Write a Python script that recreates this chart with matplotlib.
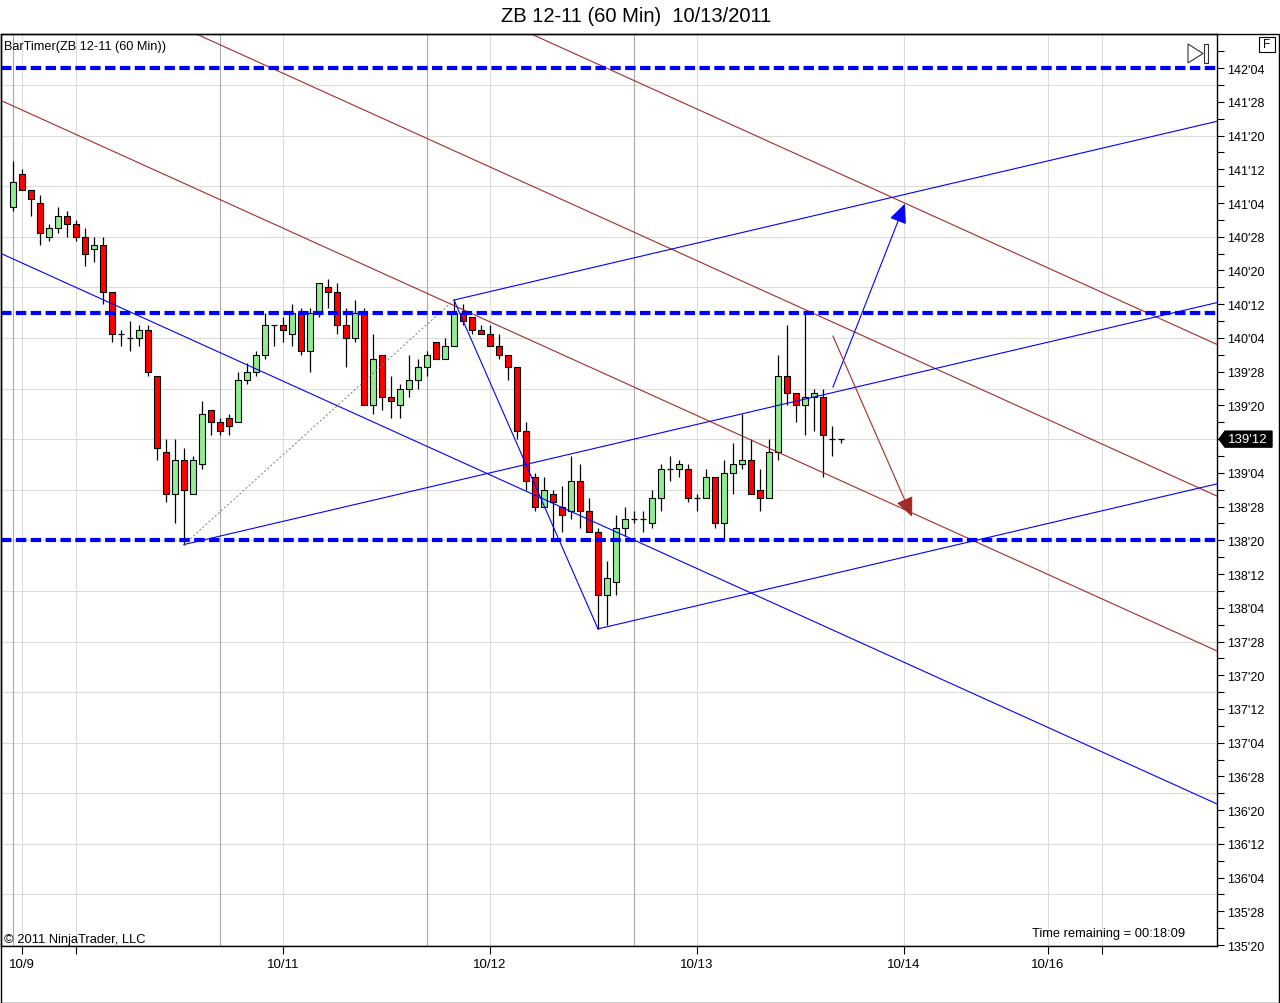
import matplotlib.pyplot as plt
import numpy as np
from matplotlib.patches import Polygon, Rectangle

plt.rcParams['font.family'] = ['Liberation Sans', 'DejaVu Sans']
plt.rcParams['lines.scale_dashes'] = False

# OHLC in 32nds, hourly bars of ZB 12-11
opens = ["141'03", "141'11", "141'07", "141'04", "140'28", "140'30", "141'01", "140'31", "140'28", "140'25",
         "140'26", "140'15", "140'05", "140'04", "140'04", "140'06", "139'27", "139'09", "138'31", "139'07",
         "138'31", "139'06", "139'19", "139'16", "139'17", "139'16", "139'26", "139'28", "140'00", "140'07",
         "140'07", "140'05", "140'10", "140'01", "140'10", "140'16", "140'15", "140'07", "140'04", "140'10",
         "139'20", "140'00", "139'22", "139'20", "139'24", "139'26", "139'29", "140'03", "139'31", "140'02",
         "140'10", "140'09", "140'06", "140'05", "140'02", "140'00", "139'29", "139'14", "139'03", "138'28",
         "138'31", "138'28", "138'27", "139'02", "138'27", "138'22", "138'07", "138'10", "138'23", "138'25",
         "138'25", "138'24", "138'30", "139'05", "139'05", "139'05", "138'30", "138'30", "139'03", "138'24",
         "139'04", "139'06", "139'07", "139'00", "138'30", "139'09", "139'27", "139'23", "139'20", "139'22",
         "139'22", "139'12", "139'12"]
highs = ["141'14", "141'12", "141'07", "141'06", "140'31", "141'03", "141'02", "141'00", "140'30", "140'28",
         "140'28", "140'15", "140'06", "140'08", "140'07", "140'07", "139'27", "139'12", "139'12", "139'10",
         "139'08", "139'21", "139'19", "139'17", "139'18", "139'28", "139'30", "140'01", "140'10", "140'07",
         "140'09", "140'12", "140'11", "140'11", "140'17", "140'18", "140'17", "140'11", "140'13", "140'11",
         "140'05", "140'00", "139'27", "139'25", "140'00", "139'31", "140'01", "140'03", "140'04", "140'13",
         "140'12", "140'09", "140'07", "140'07", "140'05", "140'00", "139'29", "139'16", "139'04", "139'03",
         "139'00", "139'01", "139'08", "139'06", "138'30", "138'23", "138'15", "138'26", "138'28", "138'27",
         "138'27", "139'00", "139'06", "139'08", "139'07", "139'06", "138'31", "139'05", "139'03", "139'07",
         "139'11", "139'18", "139'12", "139'05", "139'12", "140'00", "140'07", "139'23", "140'10", "139'24",
         "139'24", "139'15", "139'12"]
lows = ["141'02", "141'07", "141'01", "140'26", "140'27", "140'29", "140'28", "140'27", "140'21", "140'22",
        "140'12", "140'03", "140'02", "140'01", "140'02", "139'27", "139'07", "138'29", "138'24", "138'19",
        "138'31", "139'05", "139'13", "139'13", "139'13", "139'16", "139'25", "139'27", "139'31", "140'02",
        "140'03", "140'02", "140'00", "139'28", "140'09", "140'11", "140'05", "139'29", "140'03", "139'20",
        "139'18", "139'19", "139'17", "139'17", "139'22", "139'24", "139'27", "139'31", "139'31", "140'02",
        "140'07", "140'05", "140'05", "140'02", "139'31", "139'26", "139'12", "139'00", "138'27", "138'28",
        "138'20", "138'22", "138'25", "138'23", "138'22", "137'31", "138'00", "138'07", "138'21", "138'24",
        "138'22", "138'23", "138'27", "139'02", "139'03", "138'29", "138'27", "138'30", "138'23", "138'20",
        "138'31", "139'05", "138'31", "138'27", "138'30", "139'07", "139'20", "139'16", "139'13", "139'14",
        "139'03", "139'08", "139'11"]
closes = ["141'09", "141'07", "141'05", "140'29", "140'30", "141'01", "140'31", "140'28", "140'24", "140'26",
          "140'15", "140'05", "140'05", "140'04", "140'06", "139'28", "139'10", "138'31", "139'07", "139'00",
          "139'07", "139'18", "139'16", "139'14", "139'15", "139'26", "139'28", "140'00", "140'07", "140'07",
          "140'06", "140'10", "140'01", "140'10", "140'17", "140'15", "140'07", "140'04", "140'10", "139'20",
          "139'31", "139'22", "139'21", "139'24", "139'26", "139'29", "140'00", "139'31", "140'02", "140'10",
          "140'08", "140'06", "140'05", "140'02", "140'00", "139'29", "139'14", "139'02", "138'28", "139'00",
          "138'29", "138'26", "139'02", "138'27", "138'22", "138'07", "138'11", "138'23", "138'25", "138'25",
          "138'25", "138'30", "139'05", "139'05", "139'06", "138'30", "138'30", "139'03", "138'24", "139'04",
          "139'06", "139'07", "138'31", "138'30", "139'09", "139'27", "139'23", "139'20", "139'22", "139'23",
          "139'13", "139'12", "139'12"]

# horizontal lines (blue dashed)
hlines_q = ["142'04", "140'10", "138'20"]
# pitchfork pivots: bar index, low/high
pivot_bars = [19, 49, 65]
# parallel channel: price at bar 0 and slope per bar
channel_at0 = [140.711, 141.845, 142.993, 144.117]
channel_colors = ['#0000ff', '#a52a2a', '#a52a2a', '#a52a2a']
channel_slope = -0.0302
# arrows (bar, price)
arrow_blue = [(91.1, 139.76), (99.1, 141.12)]
arrow_brown = [(91.1, 140.14), (99.9, 138.80)]

# x axis
xtick_bars = [1, 7, 30, 53, 76, 99, 115, 121]
xtick_labels = ['10/9', '', '10/11', '10/12', '10/13', '10/14', '10/16', '']
session_bars = [0, 23, 46, 69]
last_price = "139'12"


def q2f(q):
    h, f = q.split("'")
    return int(h) + int(f) / 32.0


def f2q(v):
    n = int(round(v * 32))
    return "%d'%02d" % (n // 32, n % 32)


o = np.array([q2f(v) for v in opens])
h = np.array([q2f(v) for v in highs])
l = np.array([q2f(v) for v in lows])
c = np.array([q2f(v) for v in closes])
x = np.arange(len(o))

W, H = 1280, 1004
fig = plt.figure(figsize=(W / 100, H / 100), dpi=100)
fig.patch.set_facecolor('white')


def fx(p):
    return p / W


def fy(p):
    return 1 - p / H


ax = fig.add_axes([fx(1), fy(947), fx(1217) - fx(1), (947 - 35) / H])
ax.set_xlim(-1.33, 133.78)
ax.set_ylim(135.618, 142.378)

# grid
for g in np.arange(135.625, 142.4, 0.375):
    ax.axhline(g, color='#dcdcdc', lw=0.8, zorder=0)
for b in xtick_bars:
    ax.axvline(b, color='#dcdcdc', lw=0.8, zorder=0)
for b in session_bars:
    ax.axvline(b, color='#a9a9a9', lw=0.8, zorder=0)

# candles
ax.vlines(x, l, h, color='black', lw=0.9, zorder=2)
up = c > o
dn = c < o
dj = c == o
bw = 0.667
ax.bar(x[up], (c - o)[up], bottom=o[up], width=bw, color='#90ee90', edgecolor='black', lw=0.8, zorder=3)
ax.bar(x[dn], (o - c)[dn], bottom=c[dn], width=bw, color='#ff0000', edgecolor='black', lw=0.8, zorder=3)
ax.hlines(c[dj], x[dj] - bw / 2, x[dj] + bw / 2, color='black', lw=0.9, zorder=3)

# channel lines
for p0, col in zip(channel_at0, channel_colors):
    ax.axline((0, p0), slope=channel_slope, color=col, lw=0.8, zorder=4)

# pitchfork
ax_ = pivot_bars[0]
bx_ = pivot_bars[1]
cx_ = pivot_bars[2]
A = l[ax_]
B = h[bx_]
C = l[cx_]
mx, my = (bx_ + cx_) / 2, (B + C) / 2
slope = (my - A) / (mx - ax_)
xr = 133.78
for px0, py0 in [(ax_, A), (bx_, B), (cx_, C)]:
    ax.plot([px0, xr], [py0, py0 + slope * (xr - px0)], color='#0000ff', lw=0.8, zorder=4)
ax.plot([bx_, cx_], [B, C], color='#0000ff', lw=0.8, zorder=4)
ax.plot([ax_, bx_], [A, B], color='#707070', lw=0.6, ls=(0, (1.5, 1.5)), zorder=4)

# dashed horizontal lines
for q in hlines_q:
    ax.axhline(q2f(q), color='#0000ff', lw=3, dashes=(7.5, 3.2), zorder=5)

# arrows
for (s, e), col in [(arrow_blue, '#0000ff'), (arrow_brown, '#a52a2a')]:
    ax.annotate('', xy=e, xytext=s,
                arrowprops=dict(arrowstyle='-|>,head_length=1.0,head_width=0.45',
                                color=col, lw=0.8, mutation_scale=12, shrinkA=0, shrinkB=0),
                zorder=6)

# axes styling
lp = q2f(last_price)
for sp in ax.spines.values():
    sp.set_color('black')
    sp.set_linewidth(1)
ax.yaxis.tick_right()
major = np.arange(135.625, 142.2, 0.25)
minor = np.arange(135.75, 142.4, 0.25)
ax.set_yticks(major)
# the label under the last-price box is hidden by it
ax.set_yticklabels(['' if abs(v - lp) < 1e-6 else f2q(v) for v in major])
ax.set_yticks(minor, minor=True)
ax.tick_params(axis='y', which='both', direction='out', length=5, width=0.8, pad=2, labelsize=9)
ax.set_xticks(xtick_bars)
ax.set_xticklabels(xtick_labels)
ax.tick_params(axis='x', direction='out', length=6, width=0.8, pad=3, labelsize=9.5)

# last price marker
hh = 8 * 0.0074122
tr = ax.get_yaxis_transform()
x0 = (1219 - 1) / 1216
x1 = (1225 - 1) / 1216
x2 = (1272 - 1) / 1216
ax.add_patch(Polygon([(x0, lp), (x1, lp + hh), (x2, lp + hh), (x2, lp - hh), (x1, lp - hh)],
                     closed=True, transform=tr, color='black', clip_on=False, zorder=10))
ax.text((1248 - 1) / 1216, lp, last_price, transform=tr, color='white', fontsize=9.5,
        ha='center', va='center', clip_on=False, zorder=11)

# texts
fig.text(fx(636), fy(17), 'ZB 12-11 (60 Min)  10/13/2011', ha='center', va='center', fontsize=14.5)
fig.text(fx(4), fy(47), 'BarTimer(ZB 12-11 (60 Min))', ha='left', va='center', fontsize=9.2)
fig.text(fx(4), fy(940), '\u00a9 2011 NinjaTrader, LLC', ha='left', va='center', fontsize=9.3)
fig.text(fx(1032), fy(934), 'Time remaining = 00:18:09', ha='left', va='center', fontsize=9.3)

# outer frame
fig.add_artist(Rectangle((fx(0.5), fy(1003.5)), fx(1279) - fx(0.5), (1003.5 - 35) / H,
                         transform=fig.transFigure, fill=False, edgecolor='black', lw=1))
# F box
fig.add_artist(Rectangle((fx(1259), fy(53)), fx(16), 15 / H, transform=fig.transFigure,
                         fill=False, edgecolor='black', lw=0.8))
fig.text(fx(1267), fy(45.5), 'F', ha='center', va='center', fontsize=8.5)
# play-to-end icon
fig.add_artist(Polygon([(fx(1188), fy(45)), (fx(1188), fy(64)), (fx(1203), fy(54.5))],
                       closed=True, transform=fig.transFigure, fill=False, edgecolor='#303030', lw=0.8))
fig.add_artist(Rectangle((fx(1204), fy(64)), fx(4), 19 / H, transform=fig.transFigure,
                         fill=False, edgecolor='#303030', lw=0.8))

fig.savefig('out.png', dpi=100)
